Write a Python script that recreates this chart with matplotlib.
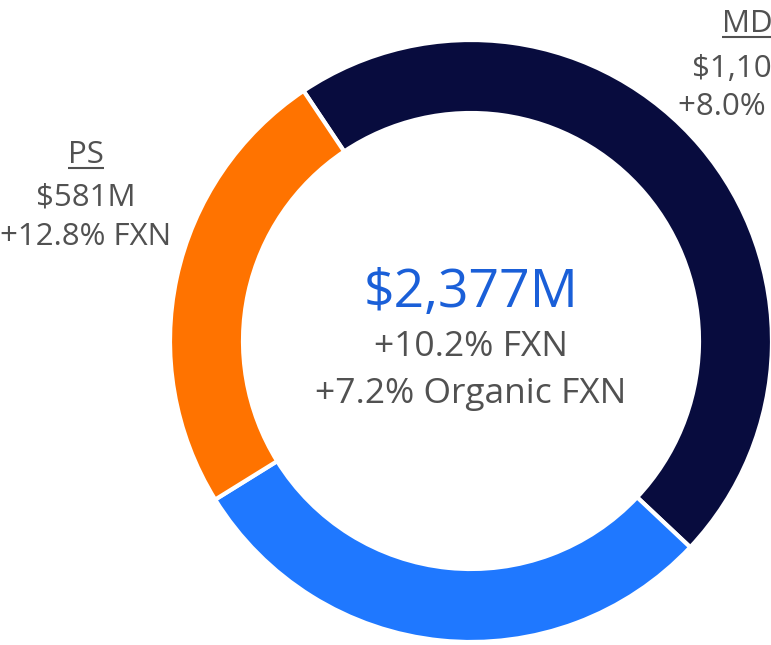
import matplotlib
matplotlib.use("Agg")
import matplotlib.pyplot as plt

# segment values ($M), clockwise from the top-left
segments = ["MD", "", "PS"]
values = [1103, 693, 581]
colors = ["#080c3e", "#1f78ff", "#ff7300"]

total_label = "$2,377M"
center_lines = ["+10.2% FXN", "+7.2% Organic FXN"]

md_lines = ["MD", "$1,103M", "+8.0% FXN"]
ps_lines = ["PS", "$581M", "+12.8% FXN"]

plt.rcParams['font.family'] = ['Open Sans', 'DejaVu Sans']

W, H = 771, 645
fig = plt.figure(figsize=(W / 100, H / 100), dpi=100)
ax = fig.add_axes([0, 0, 1, 1])
ax.set_xlim(0, W)
ax.set_ylim(0, H)
ax.set_aspect('equal')
ax.axis('off')

ax.pie(values, colors=colors, startangle=123.8, counterclock=False,
       center=(471, 304), radius=301,
       wedgeprops=dict(width=73, edgecolor='white', linewidth=3))
ax.set_xlim(0, W)
ax.set_ylim(0, H)

gray = "#515151"
ax.text(471, 338, total_label, ha='center', va='baseline', fontsize=38.5, color="#1a5fd8")
ax.text(471, 289, center_lines[0], ha='center', va='baseline', fontsize=25.5, color=gray)
ax.text(471, 242, center_lines[1], ha='center', va='baseline', fontsize=25.5, color=gray)

# label blocks: x of each line, baselines
underlined = []
for xs, ys, lines in [([747, 755, 755], [613, 568, 530], md_lines),
                      ([86, 86, 86], [482, 439, 400], ps_lines)]:
    for i, (x, y, s) in enumerate(zip(xs, ys, lines)):
        t = ax.text(x, y, s, ha='center', va='baseline', fontsize=22.5, color=gray)
        if i == 0:
            underlined.append(t)

fig.canvas.draw()
inv = ax.transData.inverted()
for t in underlined:
    bb = t.get_window_extent()
    (x0, _), (x1, _) = inv.transform([(bb.x0, bb.y0), (bb.x1, bb.y0)])
    y = t.get_position()[1] - 5
    ax.plot([x0, x1], [y, y], color=gray, lw=1.5, solid_capstyle='butt')

fig.savefig("out.png", dpi=100)
